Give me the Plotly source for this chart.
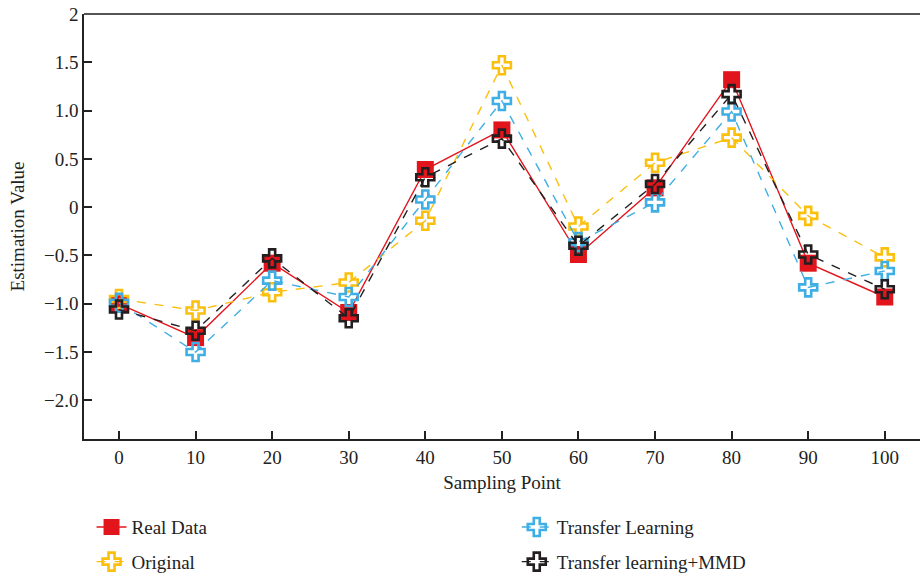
import plotly.graph_objects as go

# Sampling positions and estimates for each method
sampling_points = [0, 10, 20, 30, 40, 50, 60, 70, 80, 90, 100]
real_data = [-1.0, -1.35, -0.58, -1.09, 0.39, 0.80, -0.49, 0.20, 1.32, -0.58, -0.93]
original = [-0.95, -1.07, -0.88, -0.78, -0.14, 1.47, -0.20, 0.46, 0.72, -0.09, -0.52]
transfer_learning = [-0.99, -1.50, -0.76, -0.93, 0.08, 1.10, -0.36, 0.05, 0.99, -0.83, -0.66]
transfer_mmd = [-1.06, -1.28, -0.53, -1.15, 0.31, 0.71, -0.40, 0.24, 1.17, -0.49, -0.85]

y_tick_vals = [2, 1.5, 1.0, 0.5, 0, -0.5, -1.0, -1.5, -2.0]
y_tick_text = ["2", "1.5", "1.0", "0.5", "0", "\u22120.5", "\u22121.0", "\u22121.5", "\u22122.0"]
x_tick_vals = [0, 10, 20, 30, 40, 50, 60, 70, 80, 90, 100]

FONT = "Liberation Serif"
RED = "#E3151C"
YELLOW = "#FBBF0E"
BLUE = "#3FAEE4"
BLACK = "#231F20"

fig = go.Figure()

fig.add_trace(go.Scatter(
    x=sampling_points, y=real_data, name="Real Data", mode="lines+markers",
    line=dict(color=RED, width=1.4),
    marker=dict(symbol="square", size=17, color=RED),
    legend="legend", legendgroup="a",
))
fig.add_trace(go.Scatter(
    x=sampling_points, y=original, name="Original", mode="lines+markers",
    line=dict(color=YELLOW, width=1.4, dash="dash"),
    marker=dict(symbol="cross-open", size=15, color=YELLOW, line=dict(width=2.6, color=YELLOW)),
    legend="legend", legendgroup="b",
))
fig.add_trace(go.Scatter(
    x=sampling_points, y=transfer_learning, name="Transfer Learning", mode="lines+markers",
    line=dict(color=BLUE, width=1.4, dash="dash"),
    marker=dict(symbol="cross-open", size=15, color=BLUE, line=dict(width=2.6, color=BLUE)),
    legend="legend2", legendgroup="c",
))
fig.add_trace(go.Scatter(
    x=sampling_points, y=transfer_mmd, name="Transfer learning+MMD", mode="lines+markers",
    line=dict(color=BLACK, width=1.4, dash="dash"),
    marker=dict(symbol="cross-open", size=15, color=BLACK, line=dict(width=2.6, color=BLACK)),
    legend="legend2", legendgroup="d",
))

legend_common = dict(
    orientation="v", yref="container", yanchor="top", y=0.124,
    xref="container", xanchor="left",
    font=dict(family=FONT, size=19, color="#222"),
    tracegroupgap=7, bgcolor="rgba(0,0,0,0)", itemwidth=30,
)

fig.update_layout(
    width=920, height=580,
    margin=dict(l=84, r=0, t=14, b=141, autoexpand=False),
    paper_bgcolor="white", plot_bgcolor="white",
    font=dict(family=FONT, size=18, color="#222"),
    showlegend=True,
    legend=dict(x=0.0995, **legend_common),
    legend2=dict(x=0.5617, **legend_common),
    xaxis=dict(
        range=[-4.57, 104.6], tickvals=x_tick_vals,
        showgrid=False, zeroline=False,
        showline=True, linecolor="#222", linewidth=1.6, mirror=False,
        ticks="inside", ticklen=8, tickwidth=2, tickcolor="#222",
        tickfont=dict(family=FONT, size=19, color="#222"),
        title=dict(text="Sampling Point", font=dict(family=FONT, size=19, color="#222"), standoff=9),
    ),
    yaxis=dict(
        range=[-2.4, 2.0], tickvals=y_tick_vals, ticktext=y_tick_text,
        showgrid=False, zeroline=False,
        showline=True, linecolor="#222", linewidth=1.6,
        ticks="inside", ticklen=8, tickwidth=2, tickcolor="#222",
        tickfont=dict(family=FONT, size=19, color="#222"),
    ),
    annotations=[dict(
        text="Estimation Value", xref="paper", yref="paper", x=-0.079, y=0.5,
        xanchor="center", yanchor="middle", textangle=-90, showarrow=False,
        font=dict(family=FONT, size=19, color="#222"),
    )],
    shapes=[dict(type="line", xref="paper", yref="paper", x0=0, x1=1, y0=1, y1=1,
                 line=dict(color="#555", width=2.2))],
)

fig.write_html("out.html")
